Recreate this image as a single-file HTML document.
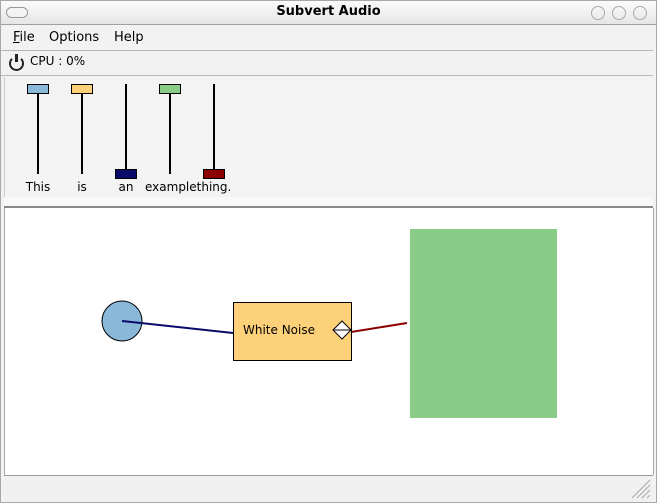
<!DOCTYPE html>
<html><head><style>
body{margin:0;width:657px;height:503px;overflow:hidden;background:#f2f2f2;font-family:"DejaVu Sans","Liberation Sans",sans-serif;font-size:13px;color:#000}
.a{position:absolute}
</style></head><body>
<div class="a" style="left:0;top:0;width:655px;height:501px;border:1px solid #a8a8a8;background:#f2f2f2"></div>
<div class="a" style="left:1px;top:1px;width:655px;height:23px;background:linear-gradient(#fbfbfb,#e6e6e6);border-bottom:1px solid #a0a0a0"></div>
<div class="a" style="left:6px;top:7px;width:20px;height:9px;border:1px solid #999;border-radius:6px;background:#f4f4f4"></div>
<div class="a" style="left:0;top:4px;width:657px;text-align:center;font-weight:bold;font-size:13px">Subvert Audio</div>
<div class="a" style="left:591px;top:6px;width:12px;height:12px;border:1px solid #aaa;border-radius:50%"></div>
<div class="a" style="left:612px;top:6px;width:12px;height:12px;border:1px solid #aaa;border-radius:50%"></div>
<div class="a" style="left:633px;top:6px;width:12px;height:12px;border:1px solid #aaa;border-radius:50%"></div>
<div class="a" style="left:13px;top:30px"><u>F</u>ile</div>
<div class="a" style="left:49px;top:30px">Options</div>
<div class="a" style="left:114px;top:30px">Help</div>
<div class="a" style="left:1px;top:50px;width:652px;height:1px;background:#b8b8b8"></div>
<div class="a" style="left:9px;top:56px;width:11px;height:11px;border:2.5px solid #222;border-top-color:transparent;border-radius:50%"></div>
<div class="a" style="left:15px;top:54px;width:3px;height:8px;background:#222"></div>
<div class="a" style="left:30px;top:54px;font-size:12px">CPU : 0%</div>
<div class="a" style="left:1px;top:75px;width:652px;height:1px;background:#b8b8b8"></div>
<div class="a" style="left:4px;top:77px;width:649px;height:120px;background:#f3f3f3;border-left:1px solid #ccc"></div>
<div class="a" style="left:4px;top:197px;width:649px;height:9px;background:#f8f8f8"></div>
<div class="a" style="left:4px;top:206px;width:649px;height:2px;background:#888"></div>
<div class="a" style="left:4px;top:208px;width:648px;height:267px;background:#fff;border-left:1px solid #aaa;border-right:1px solid #aaa"></div>
<div class="a" style="left:4px;top:475px;width:649px;height:1px;background:#999"></div>
<div class="a" style="left:4px;top:476px;width:649px;height:25px;background:#f0f0f0"></div>
<svg class="a" style="left:0;top:0" width="657" height="503">
<g stroke="#000" stroke-width="2">
<line x1="38" y1="84" x2="38" y2="174"/><line x1="82" y1="84" x2="82" y2="174"/><line x1="126" y1="84" x2="126" y2="174"/><line x1="170" y1="84" x2="170" y2="174"/><line x1="214" y1="84" x2="214" y2="174"/>
</g>
<g stroke="#000" stroke-width="1">
<rect x="27.5" y="84.5" width="21" height="9" fill="#8ab8d8"/>
<rect x="71.5" y="84.5" width="21" height="9" fill="#fdd07a"/>
<rect x="115.5" y="169.5" width="21" height="9" fill="#0a0a6a"/>
<rect x="159.5" y="84.5" width="21" height="9" fill="#88cc88"/>
<rect x="203.5" y="169.5" width="21" height="9" fill="#8b0000"/>
</g>
<g font-family="DejaVu Sans, sans-serif" font-size="12" text-anchor="middle">
<text x="38" y="191">This</text><text x="82" y="191">is</text><text x="126" y="191">an</text>
</g>
<text x="145" y="191" font-family="DejaVu Sans, sans-serif" font-size="12">examplething.</text>
<rect x="410" y="229" width="147" height="189" fill="#88cc88"/>
<line x1="351" y1="332" x2="407" y2="323" stroke="#8b0000" stroke-width="2"/>
<circle cx="122" cy="321" r="20" fill="#8ab8d8" stroke="#000"/>
<line x1="122" y1="321" x2="233" y2="333" stroke="#0a0a6a" stroke-width="2"/>
<rect x="233.5" y="302.5" width="118" height="58" fill="#fdd07a" stroke="#000"/>
<text x="243" y="334" font-family="DejaVu Sans, sans-serif" font-size="12">White Noise</text>
<path d="M342 321 L351 330 L342 339 L333 330 Z M333 330 L351 330" fill="#fff" stroke="#000"/>
<g stroke="#aaa"><line x1="632" y1="498" x2="650" y2="480"/><line x1="637" y1="498" x2="650" y2="485"/><line x1="642" y1="498" x2="650" y2="490"/><line x1="647" y1="498" x2="650" y2="495"/></g>
</svg>
</body></html>
